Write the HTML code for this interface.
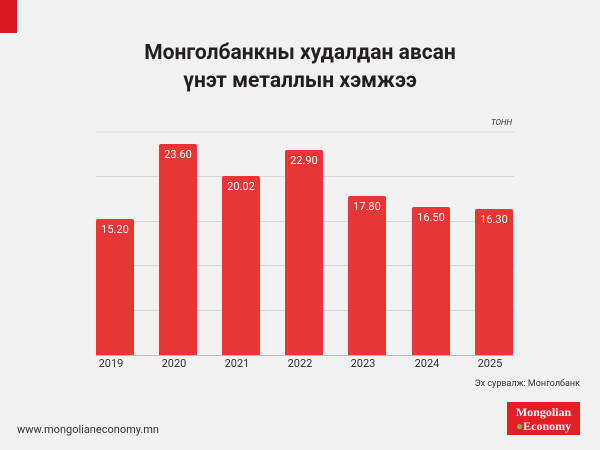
<!DOCTYPE html>
<html><head><meta charset="utf-8"><style>
body{margin:0;width:600px;height:450px;background:#f1f1f1;position:relative;overflow:hidden;font-family:"Roboto","Liberation Sans",sans-serif}
.t{position:absolute;left:0;width:600px;text-align:center;font-weight:bold;font-size:21px;color:#231f20}
.g{position:absolute;left:96px;width:418px;height:1px;background:#d8d8d8}
.b{position:absolute;width:38px;background:#e83535;border-radius:2px 2px 0 0;color:#fff;font-size:11px;text-align:center;line-height:22px}
.y{position:absolute;top:357px;width:38px;text-align:center;font-size:11px;color:#333}
</style></head><body>
<div style="position:absolute;left:0;top:0;width:17px;height:33px;background:#d71920"></div>
<div class="t" style="top:41px">Монголбанкны худалдан авсан</div>
<div class="t" style="top:69px">үнэт металлын хэмжээ</div>
<div style="position:absolute;right:88px;top:118px;font-size:8px;font-style:italic;color:#333">ТОНН</div>
<div class="g" style="top:131px;height:2px;background:#e4e4e4"></div>
<div class="g" style="top:176px"></div>
<div class="g" style="top:221px"></div>
<div class="g" style="top:265px"></div>
<div class="g" style="top:310px"></div>
<div class="g" style="top:355px;background:#bbb"></div>
<div class="b" style="left:96px;top:219px;height:136px">15.20</div>
<div class="b" style="left:159px;top:144px;height:211px">23.60</div>
<div class="b" style="left:222px;top:176px;height:179px">20.02</div>
<div class="b" style="left:285px;top:150px;height:205px">22.90</div>
<div class="b" style="left:348px;top:196px;height:159px">17.80</div>
<div class="b" style="left:412px;top:207px;height:148px">16.50</div>
<div class="b" style="left:475px;top:209px;height:146px">16.30</div>
<div class="y" style="left:92px">2019</div>
<div class="y" style="left:155px">2020</div>
<div class="y" style="left:218px">2021</div>
<div class="y" style="left:281px">2022</div>
<div class="y" style="left:344px">2023</div>
<div class="y" style="left:408px">2024</div>
<div class="y" style="left:471px">2025</div>
<div style="position:absolute;right:20px;top:379px;font-size:9px;color:#333">Эх сурвалж: Монголбанк</div>
<div style="position:absolute;left:17px;top:423px;font-size:11px;color:#333">www.mongolianeconomy.mn</div>
<div style="position:absolute;left:507px;top:402px;width:73px;height:33px;background:#e31e24;color:#fff;font-family:'Liberation Serif',serif;font-weight:bold;font-size:12px;line-height:14px;text-align:center;padding-top:3px;box-sizing:border-box">Mongolian<br><span style="color:#7cb342">●</span>Economy</div>
</body></html>
